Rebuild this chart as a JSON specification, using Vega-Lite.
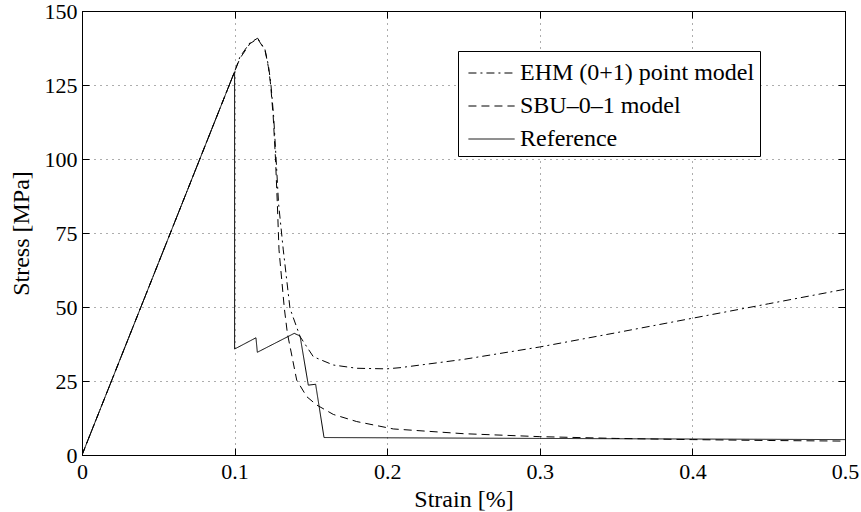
{
  "$schema": "https://vega.github.io/schema/vega-lite/v6.json",
  "width": 763,
  "height": 444,
  "autosize": {"type": "none"},
  "padding": {"left": 82, "top": 11, "right": 16, "bottom": 57},
  "background": "white",
  "config": {
    "view": {"stroke": "black", "strokeWidth": 1},
    "font": "Liberation Serif",
    "axis": {
      "domainColor": "black",
      "tickColor": "black",
      "labelColor": "black",
      "titleColor": "black",
      "labelFont": "Liberation Serif",
      "titleFont": "Liberation Serif",
      "labelFontSize": 22,
      "titleFontSize": 24,
      "titleFontWeight": "normal",
      "tickSize": -7,
      "gridColor": "#333",
      "gridDash": [1, 5],
      "gridOpacity": 0.8
    },
    "legend": {
      "labelFont": "Liberation Serif",
      "labelFontSize": 24,
      "labelColor": "black"
    }
  },
  "data": {
    "values": [
      {"s": "Reference", "i": 0, "x": 0, "y": 0},
      {"s": "Reference", "i": 1, "x": 0.1, "y": 129.5},
      {"s": "Reference", "i": 2, "x": 0.1, "y": 35.8},
      {"s": "Reference", "i": 3, "x": 0.114, "y": 39.6},
      {"s": "Reference", "i": 4, "x": 0.1149, "y": 34.7},
      {"s": "Reference", "i": 5, "x": 0.1391, "y": 41.1},
      {"s": "Reference", "i": 6, "x": 0.1429, "y": 40.2},
      {"s": "Reference", "i": 7, "x": 0.1483, "y": 23.6},
      {"s": "Reference", "i": 8, "x": 0.1531, "y": 23.9},
      {"s": "Reference", "i": 9, "x": 0.1586, "y": 5.9},
      {"s": "Reference", "i": 10, "x": 0.3, "y": 5.6},
      {"s": "Reference", "i": 11, "x": 0.5, "y": 5.2},

      {"s": "SBU–0–1 model", "i": 0, "x": 0, "y": 0},
      {"s": "SBU–0–1 model", "i": 1, "x": 0.1, "y": 129.5},
      {"s": "SBU–0–1 model", "i": 2, "x": 0.1035, "y": 134},
      {"s": "SBU–0–1 model", "i": 3, "x": 0.1101, "y": 139},
      {"s": "SBU–0–1 model", "i": 4, "x": 0.1151, "y": 140.6},
      {"s": "SBU–0–1 model", "i": 5, "x": 0.1199, "y": 136.8},
      {"s": "SBU–0–1 model", "i": 6, "x": 0.1221, "y": 131.2},
      {"s": "SBU–0–1 model", "i": 7, "x": 0.1236, "y": 125.2},
      {"s": "SBU–0–1 model", "i": 8, "x": 0.1253, "y": 114.3},
      {"s": "SBU–0–1 model", "i": 9, "x": 0.1268, "y": 100},
      {"s": "SBU–0–1 model", "i": 10, "x": 0.128, "y": 85},
      {"s": "SBU–0–1 model", "i": 11, "x": 0.1291, "y": 69.3},
      {"s": "SBU–0–1 model", "i": 12, "x": 0.1326, "y": 49.5},
      {"s": "SBU–0–1 model", "i": 13, "x": 0.1346, "y": 41.1},
      {"s": "SBU–0–1 model", "i": 14, "x": 0.1407, "y": 25.3},
      {"s": "SBU–0–1 model", "i": 15, "x": 0.1473, "y": 19.7},
      {"s": "SBU–0–1 model", "i": 16, "x": 0.1538, "y": 16.9},
      {"s": "SBU–0–1 model", "i": 17, "x": 0.1647, "y": 13.7},
      {"s": "SBU–0–1 model", "i": 18, "x": 0.18, "y": 11.3},
      {"s": "SBU–0–1 model", "i": 19, "x": 0.204, "y": 8.8},
      {"s": "SBU–0–1 model", "i": 20, "x": 0.25, "y": 7.2},
      {"s": "SBU–0–1 model", "i": 21, "x": 0.3, "y": 6.2},
      {"s": "SBU–0–1 model", "i": 22, "x": 0.35, "y": 5.6},
      {"s": "SBU–0–1 model", "i": 23, "x": 0.4, "y": 5.2},
      {"s": "SBU–0–1 model", "i": 24, "x": 0.45, "y": 4.9},
      {"s": "SBU–0–1 model", "i": 25, "x": 0.5, "y": 4.7},

      {"s": "EHM (0+1) point model", "i": 0, "x": 0, "y": 0},
      {"s": "EHM (0+1) point model", "i": 1, "x": 0.1, "y": 129.5},
      {"s": "EHM (0+1) point model", "i": 2, "x": 0.1035, "y": 134.5},
      {"s": "EHM (0+1) point model", "i": 3, "x": 0.1101, "y": 139.3},
      {"s": "EHM (0+1) point model", "i": 4, "x": 0.1151, "y": 140.8},
      {"s": "EHM (0+1) point model", "i": 5, "x": 0.1199, "y": 137},
      {"s": "EHM (0+1) point model", "i": 6, "x": 0.1222, "y": 131.5},
      {"s": "EHM (0+1) point model", "i": 7, "x": 0.1238, "y": 125.2},
      {"s": "EHM (0+1) point model", "i": 8, "x": 0.1256, "y": 114.3},
      {"s": "EHM (0+1) point model", "i": 9, "x": 0.1272, "y": 100},
      {"s": "EHM (0+1) point model", "i": 10, "x": 0.1288, "y": 85},
      {"s": "EHM (0+1) point model", "i": 11, "x": 0.1319, "y": 69.3},
      {"s": "EHM (0+1) point model", "i": 12, "x": 0.1363, "y": 49.5},
      {"s": "EHM (0+1) point model", "i": 13, "x": 0.1429, "y": 40.0},
      {"s": "EHM (0+1) point model", "i": 14, "x": 0.1516, "y": 33.2},
      {"s": "EHM (0+1) point model", "i": 15, "x": 0.1647, "y": 30.4},
      {"s": "EHM (0+1) point model", "i": 16, "x": 0.18, "y": 29.3},
      {"s": "EHM (0+1) point model", "i": 17, "x": 0.1997, "y": 29.1},
      {"s": "EHM (0+1) point model", "i": 18, "x": 0.2084, "y": 29.5},
      {"s": "EHM (0+1) point model", "i": 19, "x": 0.25, "y": 32.3},
      {"s": "EHM (0+1) point model", "i": 20, "x": 0.3, "y": 36.5},
      {"s": "EHM (0+1) point model", "i": 21, "x": 0.35, "y": 41.3},
      {"s": "EHM (0+1) point model", "i": 22, "x": 0.4, "y": 46.2},
      {"s": "EHM (0+1) point model", "i": 23, "x": 0.45, "y": 51.1},
      {"s": "EHM (0+1) point model", "i": 24, "x": 0.5, "y": 56}
    ]
  },
  "resolve": {"axis": {"x": "independent", "y": "independent"}},
  "layer": [
    {
      "mark": {"type": "line", "color": "black", "strokeWidth": 1, "clip": true},
      "encoding": {
        "x": {
          "field": "x", "type": "quantitative",
          "scale": {"domain": [0, 0.5], "nice": false},
          "axis": {
            "orient": "bottom",
            "values": [0, 0.1, 0.2, 0.3, 0.4, 0.5],
            "format": "~g",
            "title": "Strain [%]",
            "labelPadding": 13,
            "titlePadding": 5,
            "grid": true,
            "labelFlush": false
          }
        },
        "y": {
          "field": "y", "type": "quantitative",
          "scale": {"domain": [0, 150], "nice": false},
          "axis": {
            "orient": "left",
            "values": [0, 25, 50, 75, 100, 125, 150],
            "title": "Stress [MPa]",
            "labelPadding": 12,
            "titlePadding": 11,
            "grid": true,
            "labelFlush": false
          }
        },
        "order": {"field": "i", "type": "quantitative"},
        "strokeDash": {
          "field": "s", "type": "nominal",
          "scale": {
            "domain": ["EHM (0+1) point model", "SBU–0–1 model", "Reference"],
            "range": [[8, 4, 2, 4], [8, 5], [1, 0]]
          },
          "legend": {
            "title": null,
            "orient": "none",
            "legendX": 376,
            "legendY": 40,
            "symbolType": "M-0.7,0H2.1",
            "symbolSize": 1089,
            "symbolStrokeColor": "black",
            "symbolStrokeWidth": 1,
            "strokeColor": "black",
            "fillColor": "white",
            "padding": 5,
            "rowPadding": 4,
            "labelOffset": 23,
            "labelLimit": 400
          }
        }
      }
    },
    {
      "mark": {"type": "line", "opacity": 0},
      "encoding": {
        "x": {
          "field": "x", "type": "quantitative",
          "axis": {
            "orient": "top",
            "values": [0, 0.1, 0.2, 0.3, 0.4, 0.5],
            "labels": false,
            "title": null,
            "grid": false
          }
        },
        "y": {
          "field": "y", "type": "quantitative",
          "axis": {
            "orient": "right",
            "values": [0, 25, 50, 75, 100, 125, 150],
            "labels": false,
            "title": null,
            "grid": false
          }
        },
        "detail": {"field": "s"},
        "order": {"field": "i", "type": "quantitative"}
      }
    }
  ]
}
